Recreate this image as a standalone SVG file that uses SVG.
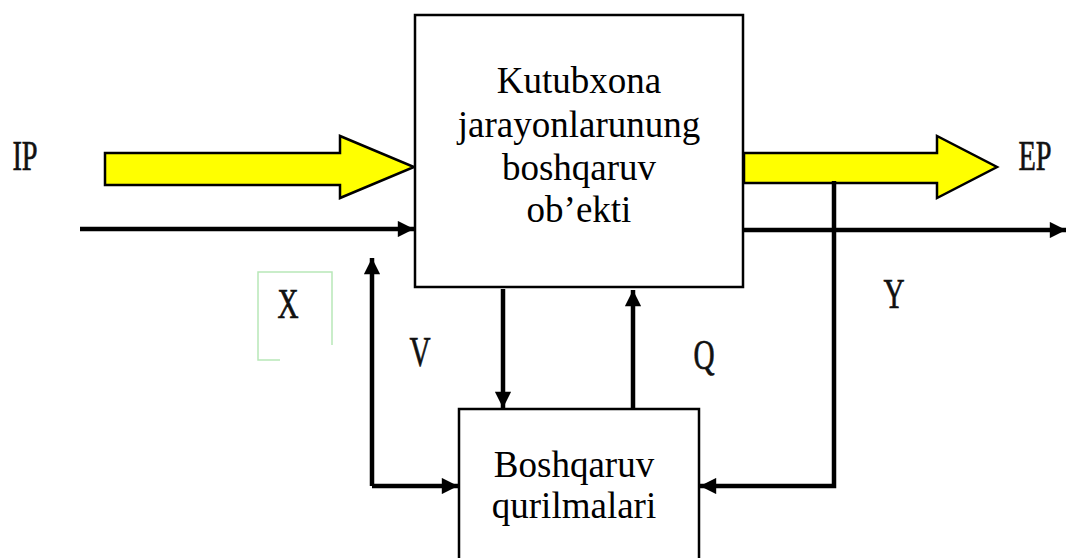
<svg xmlns="http://www.w3.org/2000/svg" width="1067" height="558" viewBox="0 0 1067 558">
<defs>
<style>
.box{fill:#fff;stroke:#000;stroke-width:2.5}
.big{font-size:37px;fill:#000;text-anchor:middle}
.lbl{font-size:43px;fill:#111;text-anchor:middle;stroke:#111;stroke-width:0.7}
.ln{fill:none;stroke:#000;stroke-width:4.5}
.fat{fill:#ffff00;stroke:#000;stroke-width:2.5;stroke-linejoin:miter}
</style>
<marker id="ah" viewBox="0 0 10 10" refX="10" refY="5" markerWidth="4" markerHeight="3.6" orient="auto" markerUnits="strokeWidth">
<path d="M0,0 L10,5 L0,10 z" fill="#000"/>
</marker>
</defs>
<rect width="1067" height="558" fill="#fff"/>
<g id="connectors">
<polygon class="fat" points="105,153 340,153 340,136 414,167 340,198 340,185 105,185"/>
<polygon class="fat" points="744,153 937,153 937,136 997,167 937,198 937,183 744,183"/>
<line class="ln" x1="80" y1="229" x2="414" y2="229" marker-end="url(#ah)"/>
<line class="ln" x1="744" y1="230" x2="1066" y2="230" marker-end="url(#ah)"/>
<line class="ln" x1="503" y1="289" x2="503" y2="408" marker-end="url(#ah)"/>
<line class="ln" x1="633" y1="409" x2="633" y2="290" marker-end="url(#ah)"/>
<polyline class="ln" points="372,486 372,258" marker-end="url(#ah)"/>
<polyline class="ln" points="372,486 458,486" marker-end="url(#ah)"/>
<polyline class="ln" points="834,181 834,486 700,486" marker-end="url(#ah)"/>
<polyline points="280,360 258,360 258,272 332,272 332,345" fill="none" stroke="#b8e8b8" stroke-width="1.5"/>
</g>
<g id="node-object" font-family="Liberation Serif, Times New Roman, serif">
<rect class="box" x="415" y="15" width="328" height="272"/>
<text class="big" x="579" y="93">Kutubxona</text>
<text class="big" x="579" y="137">jarayonlarunung</text>
<text class="big" x="579" y="180">boshqaruv</text>
<text class="big" x="579" y="222">ob’ekti</text>
</g>
<g id="node-control" font-family="Liberation Serif, Times New Roman, serif">
<rect class="box" x="459" y="409" width="240" height="160"/>
<text class="big" x="574" y="477">Boshqaruv</text>
<text class="big" x="574" y="518">qurilmalari</text>
</g>
<g id="labels" font-family="Liberation Serif, Times New Roman, serif">
<text class="lbl" transform="translate(25,170) scale(0.66,1)">IP</text>
<text class="lbl" transform="translate(1035,170) scale(0.66,1)">EP</text>
<text class="lbl" transform="translate(288,318) scale(0.68,1)">X</text>
<text class="lbl" transform="translate(420,366) scale(0.68,1)">V</text>
<text class="lbl" transform="translate(704,369) scale(0.68,1)">Q</text>
<text class="lbl" transform="translate(894,308) scale(0.68,1)">Y</text>
</g>
</svg>
